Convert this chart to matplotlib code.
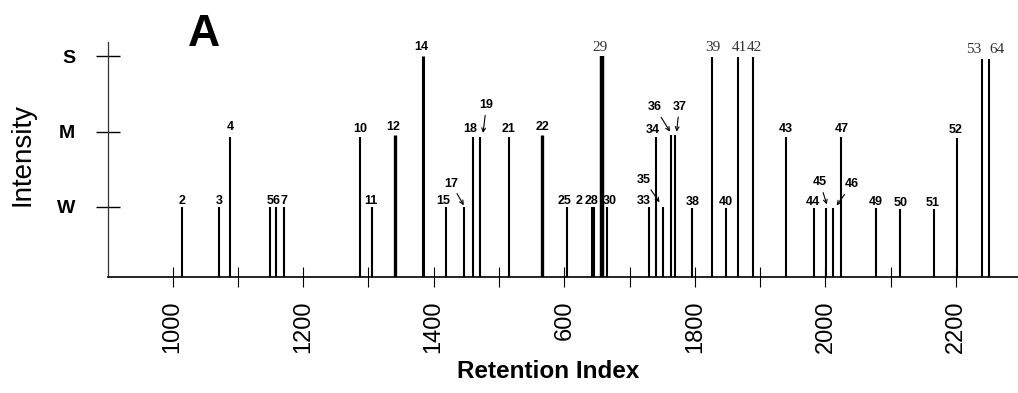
import matplotlib
matplotlib.use('Agg')
import matplotlib.pyplot as plt
from matplotlib.transforms import offset_copy
import numpy as np

plt.rcParams['font.family'] = ['Liberation Sans', 'DejaVu Sans']

#peak numbers as printed, retention index, intensity (W=1, M=2, S=3)
labels = ['2', '3', '4', '5', '6', '7', '10', '11', '12', '14', '15', '17', '18', '19',
          '21', '22', '25', '2', '28', '29', '30', '33', '34', '35', '36', '37', '38',
          '39', '40', '41', '42', '43', '44', '45', '46', '47', '49', '50', '51', '52',
          '53', '64']
ri = [1014, 1071, 1088, 1149, 1159, 1170.5, 1287, 1305, 1341, 1383, 1419.5, 1446, 1460, 1471.5,
      1516, 1566, 1604.5, 1643, 1645.5, 1657, 1666, 1729, 1740, 1751, 1763, 1769.5, 1796,
      1826, 1847, 1866.5, 1889.5, 1939, 1983, 2001, 2012, 2024.5, 2077, 2115, 2166, 2202,
      2240, 2250.5]
intensity = [1.0, 1.0, 1.93, 1.0, 1.0, 1.0, 1.93, 1.0, 1.95, 3.0, 1.0, 1.0, 1.93, 1.93,
             1.93, 1.95, 1.0, 1.0, 1.0, 3.0, 1.0, 1.0, 1.93, 1.0, 1.96, 1.96, 0.99,
             2.99, 0.98, 2.99, 2.99, 1.93, 0.98, 0.98, 0.98, 1.93, 0.98, 0.97, 0.97, 1.91,
             2.97, 2.97]

level_pos = [1, 2, 3]
level_names = ['W', 'M', 'S']
tick_pos = np.arange(1000, 2201, 100)
tick_text = ['1000', '', '1200', '', '1400', '', '600', '', '1800', '', '2000', '', '2200']

base = 0.07

#styling (index in lists -> label offset in pixels, relative to top of bar)
thick = {8: 2.4, 9: 2.2, 15: 2.4, 19: 3.2}
serif = {19, 27, 29, 30, 40, 41}
shift = {2: (0.7, 10), 7: (-1.3, 6), 8: (-2, 8), 9: (-1, 9), 10: (-3, 6), 11: (-12.6, 23.3),
         12: (-2.7, 8), 13: (6, 31.7), 14: (-1, 8), 16: (-2.3, 6), 17: (-13, 6), 18: (-3, 6),
         19: (-1.7, 9), 20: (2, 6), 21: (-5, 6), 22: (-3.3, 7), 23: (-18.7, 27),
         24: (-15.7, 27.4), 25: (4.3, 27.7), 27: (1, 10), 29: (1.3, 10), 30: (0.7, 10),
         32: (-1.6, 6), 33: (-6, 26), 34: (18.4, 24), 38: (-1.3, 6), 39: (-1.3, 8),
         40: (-8.4, 9), 41: (8, 9)}
arrows = {11: (0, 1.7), 13: (2.6, 4), 23: (-3.4, 4.7), 24: (-0.7, 3), 25: (1.7, 3),
          33: (0.7, 4), 34: (3.4, 3)}

fig = plt.figure(figsize=(10.18, 3.93), dpi=100)
ax = fig.add_axes([108 / 1018, 116 / 393, 910 / 1018, 235 / 393])

widths = [thick.get(i, 1.5) for i in range(len(ri))]
ax.vlines(ri, base, intensity, colors='black', linewidth=widths)

for i, lab in enumerate(labels):
    h = intensity[i]
    if h > 2.5:
        d = (0, 10)
    elif h > 1.5:
        d = (0, 8)
    else:
        d = (0, 6)
    d = shift.get(i, d)
    tip = arrows.get(i, (0, 0))
    if i in serif:
        fp = dict(family='Liberation Serif', fontsize=11, color='#333333')
    else:
        fp = dict(fontsize=9, fontweight='bold')
    kw = {}
    if i in arrows:
        kw['arrowprops'] = dict(arrowstyle='->,head_length=0.3,head_width=0.15', lw=0.8,
                                color='black', shrinkA=1, shrinkB=0)
    ax.annotate(lab, xy=(ri[i], h),
                xycoords=offset_copy(ax.transData, x=tip[0], y=tip[1], units='dots'),
                xytext=(d[0] - tip[0], d[1] - tip[1]), textcoords='offset pixels',
                ha='center', va='center', **fp, **kw)

ax.set_xlim(901, 2295)
ax.set_ylim(base, base + 235 / 75.3)

ax.set_xticks(tick_pos)
ax.set_xticklabels(tick_text)
ax.set_yticks(level_pos)
ax.set_yticklabels(level_names)
ax.tick_params(axis='x', direction='inout', length=14, width=0.8, pad=10, labelsize=17,
               labelrotation=90)
ax.tick_params(axis='y', direction='inout', length=17, width=1, pad=15, labelsize=14)
for t in ax.get_yticklabels():
    t.set_fontweight('bold')

ax.spines['top'].set_visible(False)
ax.spines['right'].set_visible(False)
ax.spines['left'].set_linewidth(0.9)
ax.spines['left'].set_color('#333333')
ax.spines['bottom'].set_linewidth(1.2)

fig.text(204 / 1018, 1 - 34 / 393, 'A', fontsize=32, fontweight='bold', ha='center', va='center')
fig.text(23 / 1018, 1 - 155 / 393, 'Intensity', fontsize=20, rotation=90, ha='center', va='center')
fig.text(548 / 1018, 1 - 378 / 393, 'Retention Index', fontsize=17.5, fontweight='bold',
         ha='center', va='baseline')

fig.savefig('out.png', dpi=100)
